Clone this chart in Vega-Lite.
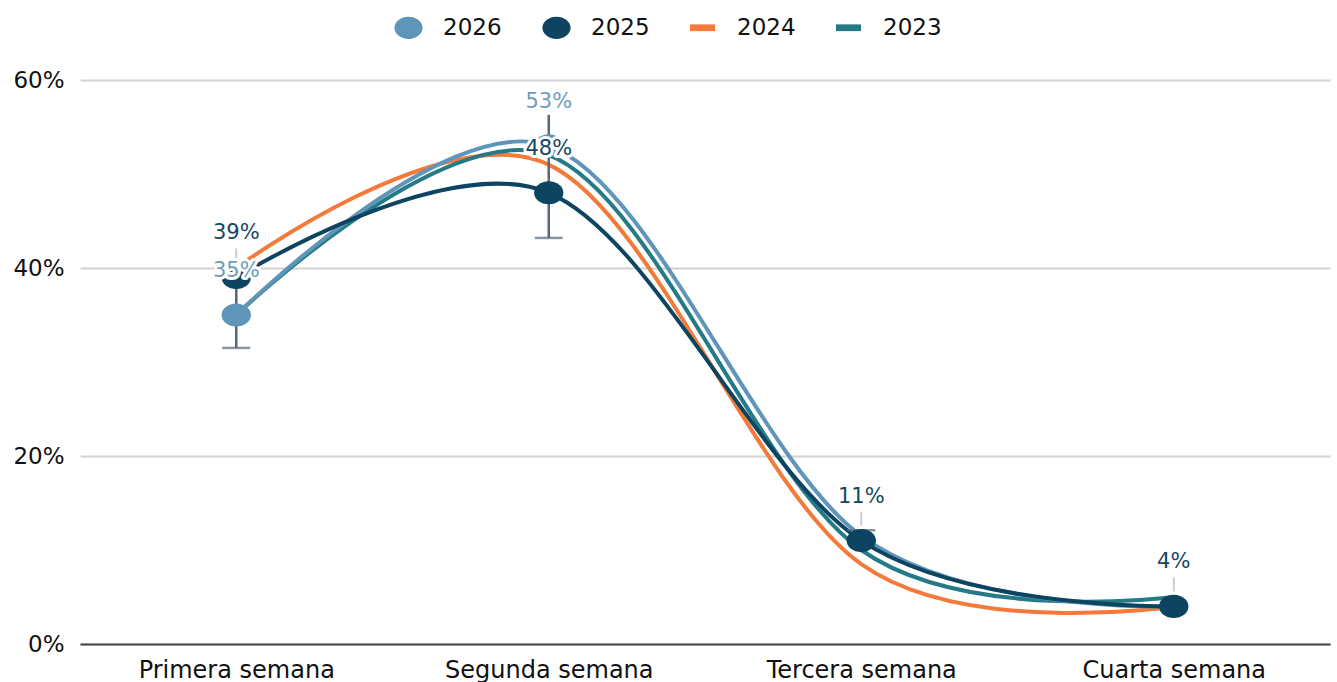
{
  "$schema": "https://vega.github.io/schema/vega-lite/v6.json",
  "width": 1250,
  "height": 564,
  "autosize": {"type": "none"},
  "padding": {"left": 80, "top": 80, "right": 7, "bottom": 38},
  "background": "white",
  "config": {
    "view": {"stroke": null},
    "font": "DejaVu Sans",
    "axisY": {
      "title": null,
      "format": ".0%",
      "labelFont": "DejaVu Sans",
      "labelFontSize": 23,
      "labelColor": "#111111",
      "labelPadding": 16,
      "ticks": false,
      "tickSize": 0,
      "domain": false,
      "grid": true,
      "gridColor": "#d2d2d2",
      "gridWidth": 2
    }
  },
  "resolve": {"scale": {"color": "independent"}, "legend": {"color": "independent"}},
  "datasets": {
    "lines": [
      {"year": "2024", "week": "Primera semana", "value": 0.40},
      {"year": "2024", "week": "Segunda semana", "value": 0.51},
      {"year": "2024", "week": "Tercera semana", "value": 0.085},
      {"year": "2024", "week": "Cuarta semana", "value": 0.04},
      {"year": "2023", "week": "Primera semana", "value": 0.35},
      {"year": "2023", "week": "Segunda semana", "value": 0.52},
      {"year": "2023", "week": "Tercera semana", "value": 0.10},
      {"year": "2023", "week": "Cuarta semana", "value": 0.05},
      {"year": "2026", "week": "Primera semana", "value": 0.35},
      {"year": "2026", "week": "Segunda semana", "value": 0.53},
      {"year": "2026", "week": "Tercera semana", "value": 0.115},
      {"year": "2026", "week": "Cuarta semana", "value": 0.04},
      {"year": "2025", "week": "Primera semana", "value": 0.39},
      {"year": "2025", "week": "Segunda semana", "value": 0.48},
      {"year": "2025", "week": "Tercera semana", "value": 0.11},
      {"year": "2025", "week": "Cuarta semana", "value": 0.04}
    ],
    "points": [
      {"year": "2026", "week": "Primera semana", "value": 0.35},
      {"year": "2026", "week": "Segunda semana", "value": 0.53},
      {"year": "2025", "week": "Primera semana", "value": 0.39},
      {"year": "2025", "week": "Segunda semana", "value": 0.48},
      {"year": "2025", "week": "Tercera semana", "value": 0.11},
      {"year": "2025", "week": "Cuarta semana", "value": 0.04}
    ],
    "err": [
      {"week": "Primera semana", "low": 0.315, "high": 0.385},
      {"week": "Segunda semana", "low": 0.432, "high": 0.563},
      {"week": "Tercera semana", "low": 0.11, "high": 0.121}
    ],
    "caps": [
      {"week": "Primera semana", "v": 0.315},
      {"week": "Segunda semana", "v": 0.432},
      {"week": "Tercera semana", "v": 0.121}
    ]
  },
  "encoding": {
    "x": {
      "field": "week",
      "type": "nominal",
      "sort": ["Primera semana", "Segunda semana", "Tercera semana", "Cuarta semana"],
      "scale": {"type": "point", "padding": 0.5},
      "axis": {
        "title": null,
        "labelAngle": 0,
        "labelFont": "DejaVu Sans",
        "labelFontSize": 24,
        "labelColor": "#111111",
        "labelPadding": 14,
        "labelLimit": 0,
        "ticks": false,
        "tickSize": 0,
        "grid": false,
        "domainColor": "#444444",
        "domainWidth": 2
      }
    }
  },
  "layer": [
    {
      "data": {"name": "lines"},
      "mark": {"type": "line", "interpolate": "cardinal", "strokeWidth": 4},
      "encoding": {
        "y": {
          "field": "value",
          "type": "quantitative",
          "title": null,
          "scale": {"domain": [0, 0.6], "nice": false},
          "axis": {"values": [0, 0.2, 0.4, 0.6], "format": ".0%", "title": null}
        },
        "color": {
          "field": "year",
          "type": "nominal",
          "scale": {"domain": ["2026", "2025", "2024", "2023"], "range": ["#5e95b8", "#0d4461", "#f47a3a", "#247b86"]},
          "legend": null
        },
        "detail": {"field": "year"}
      }
    },
    {
      "data": {"name": "points"},
      "mark": {"type": "rule", "color": "#cdcdcd", "strokeWidth": 2, "yOffset": -29, "y2Offset": -15},
      "encoding": {
        "y": {"field": "value", "type": "quantitative", "title": null},
        "y2": {"field": "value"}
      }
    },
    {
      "data": {"name": "err"},
      "mark": {"type": "rule", "color": "#56687a", "strokeWidth": 2.5},
      "encoding": {
        "y": {"field": "low", "type": "quantitative", "title": null},
        "y2": {"field": "high"}
      }
    },
    {
      "data": {"name": "caps"},
      "mark": {"type": "tick", "color": "#56687a", "size": 28, "thickness": 2.5, "orient": "horizontal"},
      "encoding": {
        "y": {"field": "v", "type": "quantitative", "title": null}
      }
    },
    {
      "data": {"name": "points"},
      "mark": {
        "type": "point",
        "filled": true,
        "size": 676,
        "opacity": 1,
        "strokeWidth": 0,
        "shape": "M-1.13,0A1.13,0.89 0 1,0 1.13,0A1.13,0.89 0 1,0 -1.13,0Z"
      },
      "encoding": {
        "y": {"field": "value", "type": "quantitative", "title": null},
        "color": {
          "field": "year",
          "type": "nominal",
          "scale": {"domain": ["2026", "2025", "2024", "2023"], "range": ["#5e95b8", "#0d4461", "#f47a3a", "#247b86"]},
          "legend": {
            "title": null,
            "orient": "none",
            "direction": "horizontal",
            "legendX": 316,
            "legendY": -65,
            "padding": 0,
            "labelFont": "DejaVu Sans",
            "labelFontSize": 23,
            "labelColor": "#111111",
            "labelOffset": 22,
            "columnPadding": 40,
            "symbolSize": 625,
            "symbolStrokeWidth": 0,
            "symbolOpacity": 1,
            "encode": {
              "symbols": {
                "update": {
                  "shape": [
                    {"test": "datum.value === '2024' || datum.value === '2023'", "value": "M-1,-0.27H1V0.27H-1Z"},
                    {"value": "M-1.13,0A1.13,0.89 0 1,0 1.13,0A1.13,0.89 0 1,0 -1.13,0Z"}
                  ]
                }
              }
            }
          }
        }
      }
    },
    {
      "data": {"name": "points"},
      "mark": {"type": "text", "dy": -44, "fontSize": 21, "font": "DejaVu Sans", "stroke": "white", "strokeWidth": 6, "fill": "white", "strokeJoin": "round"},
      "encoding": {
        "y": {"field": "value", "type": "quantitative", "title": null},
        "text": {"field": "value", "type": "quantitative", "format": ".0%"}
      }
    },
    {
      "data": {"name": "points"},
      "mark": {"type": "text", "dy": -44, "fontSize": 21, "font": "DejaVu Sans"},
      "encoding": {
        "y": {"field": "value", "type": "quantitative", "title": null},
        "text": {"field": "value", "type": "quantitative", "format": ".0%"},
        "color": {
          "field": "year",
          "type": "nominal",
          "scale": {"domain": ["2026", "2025", "2024", "2023"], "range": ["#6d9dbc", "#16475f", "#f47a3a", "#247b86"]},
          "legend": null
        }
      }
    }
  ]
}
